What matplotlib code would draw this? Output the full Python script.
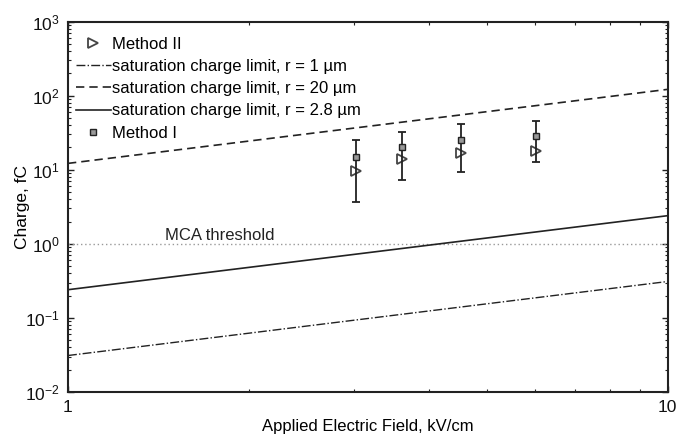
import numpy as np
import matplotlib
matplotlib.use("Agg")
import matplotlib.pyplot as plt
from matplotlib.ticker import LogLocator, NullFormatter

plt.rcParams['font.family'] = ['Liberation Sans', 'DejaVu Sans']
plt.rcParams['mathtext.fontset'] = 'custom'
plt.rcParams['mathtext.rm'] = 'Liberation Sans'

# Measured charge, Method I and Method II
field = [3.02, 3.61, 4.52, 6.03]
method1 = [14.9, 20.0, 25.2, 28.8]
method2 = [9.5, 14.1, 17.1, 18.1]
err_low = [3.7, 7.3, 9.2, 12.6]
err_high = [25.6, 32.6, 41.0, 45.0]

# Saturation charge limit at the ends of the field range
line_field = [1, 10]
limit_r1 = [0.031, 0.31]
limit_r20 = [12.2, 122.0]
limit_r28 = [0.24, 2.4]

mca_threshold = 1.0

fig = plt.figure(figsize=(6.8, 4.34), dpi=100)
ax = fig.add_axes([0.1, 0.097, 0.882, 0.853])

dark = '#222222'

ax.plot(line_field, [mca_threshold] * 2, linestyle=(0, (1, 2)), color='#999999', lw=1.0)
ax.text(1.45, 1.12, 'MCA threshold', fontsize=12, color=dark)

m2, = ax.plot(field, method2, linestyle='none', marker='>', markersize=7,
              markerfacecolor='white', markeredgecolor='#444444', markeredgewidth=1.3)
l1, = ax.plot(line_field, limit_r1, linestyle='-.', color=dark, lw=1.0)
l20, = ax.plot(line_field, limit_r20, linestyle=(0, (5, 3)), color=dark, lw=1.2)
l28, = ax.plot(line_field, limit_r28, linestyle='-', color=dark, lw=1.2)

yerr = [np.array(method2) - np.array(err_low), np.array(err_high) - np.array(method2)]
ax.errorbar(field, method2, yerr=yerr, fmt='none', ecolor=dark, elinewidth=1.3,
            capsize=3, capthick=1.3)
m1, = ax.plot(field, method1, linestyle='none', marker='s', markersize=5,
              markerfacecolor='#999999', markeredgecolor=dark, markeredgewidth=1.0)

ax.set_xscale('log')
ax.set_yscale('log')
ax.set_xlim(1, 10)
ax.set_ylim(1e-2, 1e3)

ax.set_xticks([1, 10])
ax.set_xticklabels(['1', '10'])
ax.xaxis.set_minor_locator(LogLocator(base=10, subs=np.arange(2, 10), numticks=12))
ax.xaxis.set_minor_formatter(NullFormatter())
ax.yaxis.set_minor_locator(LogLocator(base=10, subs=np.arange(2, 10), numticks=12))
ax.yaxis.set_minor_formatter(NullFormatter())

ax.tick_params(which='both', direction='in', top=True, right=True, colors=dark,
               labelsize=12.5, labelcolor='#111111')
ax.tick_params(which='major', length=4, width=1.0, pad=6)
ax.tick_params(which='minor', length=2, width=0.8)
for s in ax.spines.values():
    s.set_linewidth(1.5)
    s.set_color(dark)

ax.set_xlabel('Applied Electric Field, kV/cm', fontsize=12, labelpad=3)
ax.set_ylabel('Charge, fC', fontsize=12.5)
ax.yaxis.set_label_coords(-0.064, 0.5)

ax.legend([m2, l1, l20, l28, m1],
          ['Method II',
           'saturation charge limit, r = 1 \u00b5m',
           'saturation charge limit, r = 20 \u00b5m',
           'saturation charge limit, r = 2.8 \u00b5m',
           'Method I'],
          loc='upper left', bbox_to_anchor=(0.0, 0.979), frameon=False,
          fontsize=12, handlelength=2.15, handletextpad=0.05,
          labelspacing=0.43, borderaxespad=0.3, borderpad=0.15)

fig.savefig('out.png', dpi=100)
